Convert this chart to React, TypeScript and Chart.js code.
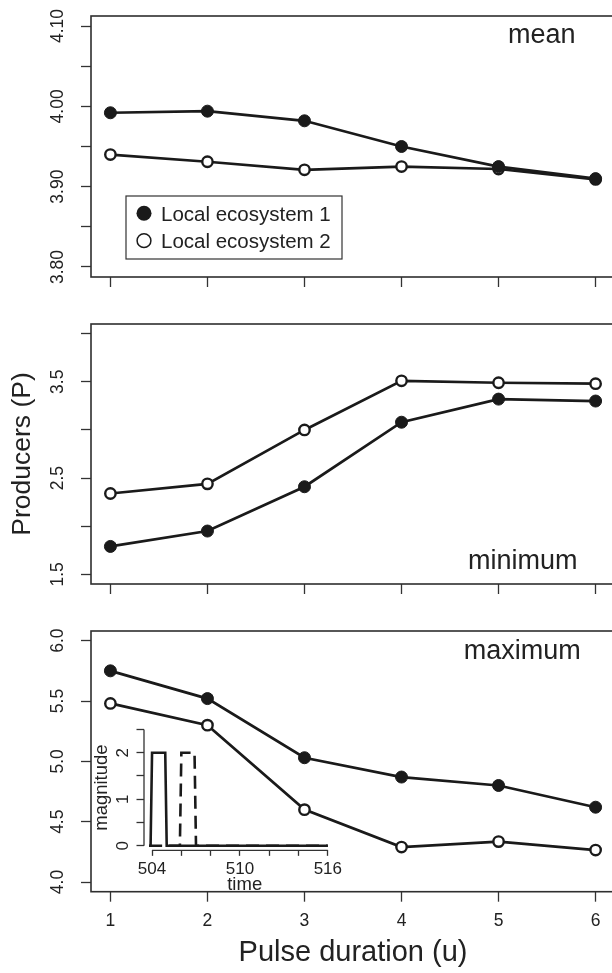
import React, { useEffect, useRef } from 'react';
import { Chart, registerables } from 'chart.js';

Chart.register(...registerables);

const FONT = '"Liberation Sans", Arial, Helvetica, sans-serif';
const INK = '#1a1a1a';
const TEXT = '#222222';
const FRAME = '#2e2e2e';

// ---------------- data ----------------
const durations = [1, 2, 3, 4, 5, 6];
const seriesNames = ['Local ecosystem 1', 'Local ecosystem 2'];

const meanEco1 = [3.992, 3.994, 3.982, 3.950, 3.925, 3.910];
const meanEco2 = [3.940, 3.931, 3.921, 3.925, 3.922, 3.909];

const minEco1 = [1.79, 1.95, 2.41, 3.08, 3.32, 3.30];
const minEco2 = [2.34, 2.44, 3.00, 3.51, 3.49, 3.48];

const maxEco1 = [5.75, 5.52, 5.03, 4.87, 4.80, 4.62];
const maxEco2 = [5.48, 5.30, 4.60, 4.29, 4.335, 4.265];

const panelLabels = ['mean', 'minimum', 'maximum'];
const xTitle = 'Pulse duration (u)';
const yTitle = 'Producers (P)';

const durationTicks = [1, 2, 3, 4, 5, 6];
const durationTickLabels = ['1', '2', '3', '4', '5', '6'];

const meanTicks = [3.8, 3.85, 3.9, 3.95, 4.0, 4.05, 4.1];
const meanTickLabels = ['3.80', '', '3.90', '', '4.00', '', '4.10'];
const minTicks = [1.5, 2.0, 2.5, 3.0, 3.5, 4.0];
const minTickLabels = ['1.5', '', '2.5', '', '3.5', ''];
const maxTicks = [4.0, 4.5, 5.0, 5.5, 6.0];
const maxTickLabels = ['4.0', '4.5', '5.0', '5.5', '6.0'];

// inset: pulse shapes
const pulseTime1 = [503.8, 503.9, 504.0, 504.9, 505.0, 516.0];
const pulseMag1 = [0, 0, 2, 2, 0, 0];
const pulseTime2 = [503.8, 505.9, 506.0, 506.9, 507.0, 516.0];
const pulseMag2 = [0, 0, 2, 2, 0, 0];
const insetXTitle = 'time';
const insetYTitle = 'magnitude';
const insetTimeTicks = [504, 506, 508, 510, 512, 514, 516];
const insetTimeTickLabels = ['504', '', '', '510', '', '', '516'];
const insetMagTicks = [0, 0.5, 1, 1.5, 2, 2.5];
const insetMagTickLabels = ['0', '', '1', '', '2', ''];

// ---------------- plugins ----------------
const panelDecor = {
  id: 'panelDecor',
  beforeDatasetsDraw(chart: any) {
    const { ctx, chartArea: a } = chart;
    ctx.save();
    ctx.strokeStyle = FRAME;
    ctx.lineWidth = 1.6;
    ctx.strokeRect(a.left, a.top, a.right - a.left, a.bottom - a.top);
    ctx.restore();
  },
  afterDraw(chart: any, _args: any, opts: any) {
    const { ctx } = chart;
    ctx.save();
    ctx.fillStyle = TEXT;
    ctx.textBaseline = 'alphabetic';
    ctx.textAlign = 'left';
    ctx.font = `27px ${FONT}`;
    ctx.fillText(opts.label, opts.labelX, opts.labelY);
    if (opts.legend) {
      const L = opts.legend;
      ctx.strokeStyle = '#333';
      ctx.lineWidth = 1.2;
      ctx.strokeRect(L.x, L.y, L.w, L.h);
      const ds = chart.data.datasets;
      ctx.font = `20.5px ${FONT}`;
      for (let i = 0; i < 2; i++) {
        const cy = L.rowY[i];
        ctx.beginPath();
        if (i === 0) {
          ctx.arc(L.markX, cy, 7.5, 0, Math.PI * 2);
          ctx.fillStyle = INK;
          ctx.fill();
        } else {
          ctx.arc(L.markX, cy, 6.9, 0, Math.PI * 2);
          ctx.fillStyle = '#fff';
          ctx.fill();
          ctx.strokeStyle = INK;
          ctx.lineWidth = 1.5;
          ctx.stroke();
        }
        ctx.fillStyle = TEXT;
        ctx.fillText(ds[i].label, L.textX, L.baseY[i]);
      }
    }
    ctx.restore();
  },
};

const insetAxes = {
  id: 'insetAxes',
  afterDraw(chart: any) {
    const { ctx, chartArea: a, scales } = chart;
    const xs = scales.x;
    const ys = scales.y;
    ctx.save();
    ctx.strokeStyle = '#333';
    ctx.lineWidth = 1.3;
    ctx.beginPath();
    ctx.moveTo(xs.getPixelForValue(insetTimeTicks[0]), a.bottom);
    ctx.lineTo(xs.getPixelForValue(insetTimeTicks[insetTimeTicks.length - 1]), a.bottom);
    ctx.moveTo(a.left, ys.getPixelForValue(insetMagTicks[0]));
    ctx.lineTo(a.left, ys.getPixelForValue(insetMagTicks[insetMagTicks.length - 1]));
    ctx.stroke();
    ctx.restore();
  },
};

// ---------------- config helpers ----------------
function makeXScale(opts: any) {
  return {
    type: 'linear',
    position: 'bottom',
    min: opts.min,
    max: opts.max,
    bounds: 'data',
    afterBuildTicks: (s: any) => {
      s.ticks = opts.ticks.map((v: number) => ({ value: v }));
    },
    afterFit: (s: any) => {
      s.height = opts.height;
      s.paddingLeft = 0;
      s.paddingRight = 0;
      s.paddingTop = 0;
      s.paddingBottom = 0;
    },
    ticks: {
      display: opts.showLabels,
      autoSkip: false,
      maxRotation: 0,
      minRotation: 0,
      padding: opts.pad,
      color: TEXT,
      font: { size: opts.fontSize, family: FONT },
      callback: (_v: any, i: number) => opts.labels[i] ?? '',
    },
    grid: {
      display: true,
      drawOnChartArea: false,
      drawTicks: true,
      tickLength: opts.tickLength,
      tickWidth: 1.3,
      tickColor: '#333',
    },
    border: { display: false },
    title: opts.title
      ? {
          display: true,
          text: opts.title,
          color: TEXT,
          font: { size: opts.titleSize, family: FONT },
          padding: { top: 0, bottom: opts.titlePad },
        }
      : { display: false },
  };
}

function makeYScale(opts: any) {
  return {
    type: 'linear',
    position: 'left',
    min: opts.min,
    max: opts.max,
    bounds: 'data',
    afterBuildTicks: (s: any) => {
      s.ticks = opts.ticks.map((v: number) => ({ value: v }));
    },
    afterFit: (s: any) => {
      s.width = opts.width;
      s.paddingLeft = 0;
      s.paddingRight = 0;
      s.paddingTop = 0;
      s.paddingBottom = 0;
    },
    ticks: {
      autoSkip: false,
      minRotation: 90,
      maxRotation: 90,
      crossAlign: 'center',
      padding: opts.pad,
      color: TEXT,
      font: { size: opts.fontSize, family: FONT },
      callback: (_v: any, i: number) => opts.labels[i] ?? '',
    },
    grid: {
      display: true,
      drawOnChartArea: false,
      drawTicks: true,
      tickLength: opts.tickLength,
      tickWidth: 1.3,
      tickColor: '#333',
    },
    border: { display: false },
    title: opts.title
      ? {
          display: true,
          text: opts.title,
          color: TEXT,
          font: { size: opts.titleSize, family: FONT },
          padding: { top: opts.titlePad, bottom: 0 },
        }
      : { display: false },
  };
}

function panelConfig(p: any) {
  const pts = (arr: number[]) => arr.map((v, i) => ({ x: durations[i], y: v }));
  return {
    type: 'line',
    data: {
      datasets: [
        {
          label: seriesNames[0],
          data: pts(p.eco1),
          borderColor: INK,
          borderWidth: 2.7,
          tension: 0,
          pointRadius: 6,
          pointBorderWidth: 1,
          pointBackgroundColor: INK,
          pointBorderColor: INK,
        },
        {
          label: seriesNames[1],
          data: pts(p.eco2),
          borderColor: INK,
          borderWidth: 2.7,
          tension: 0,
          pointRadius: 5.2,
          pointBorderWidth: 2.4,
          pointBackgroundColor: '#ffffff',
          pointBorderColor: INK,
        },
      ],
    },
    options: {
      animation: false,
      responsive: false,
      devicePixelRatio: 1,
      events: [],
      layout: { autoPadding: false, padding: { top: p.areaTop, left: 0, right: 0, bottom: 0 } },
      plugins: {
        legend: { display: false },
        tooltip: { enabled: false },
        panelDecor: {
          label: p.label,
          labelX: p.labelX,
          labelY: p.labelY,
          legend: p.legend,
        },
      },
      scales: {
        x: makeXScale({
          min: 0.8,
          max: 6.2,
          ticks: durationTicks,
          labels: durationTickLabels,
          showLabels: p.showXLabels,
          height: p.height - p.areaBottom,
          pad: 8.8,
          fontSize: 17.5,
          tickLength: 10,
          title: p.xTitle,
          titleSize: 29,
          titlePad: 3,
        }),
        y: makeYScale({
          min: p.yMin,
          max: p.yMax,
          ticks: p.yTicks,
          labels: p.yLabels,
          width: 91,
          pad: p.yPad,
          fontSize: 17.5,
          tickLength: 10,
          title: p.yTitle,
          titleSize: 26.5,
          titlePad: 6.6,
        }),
      },
    },
    plugins: [panelDecor],
  };
}

function insetConfig() {
  const pts = (t: number[], m: number[]) => t.map((v, i) => ({ x: v, y: m[i] }));
  return {
    type: 'line',
    data: {
      datasets: [
        {
          label: 'pulse 1',
          data: pts(pulseTime1, pulseMag1),
          borderColor: INK,
          borderWidth: 2.6,
          tension: 0,
          pointRadius: 0,
        },
        {
          label: 'pulse 2',
          data: pts(pulseTime2, pulseMag2),
          borderColor: INK,
          borderWidth: 2.6,
          borderDash: [13, 7],
          tension: 0,
          pointRadius: 0,
        },
      ],
    },
    options: {
      animation: false,
      responsive: false,
      devicePixelRatio: 1,
      events: [],
      layout: { autoPadding: false, padding: { top: 9.8, left: 0, right: 9.6, bottom: 0 } },
      plugins: { legend: { display: false }, tooltip: { enabled: false } },
      scales: {
        x: makeXScale({
          min: 503.45,
          max: 517.2,
          ticks: insetTimeTicks,
          labels: insetTimeTickLabels,
          showLabels: true,
          height: 185 - 135.35,
          pad: 3,
          fontSize: 17,
          tickLength: 5.5,
          title: insetXTitle,
          titleSize: 18.5,
          titlePad: 4.4,
        }),
        y: makeYScale({
          min: -0.1,
          max: 2.6,
          ticks: insetMagTicks,
          labels: insetMagTickLabels,
          width: 54,
          pad: 8.8,
          fontSize: 17,
          tickLength: 7.5,
          title: insetYTitle,
          titleSize: 18.5,
          titlePad: 0.9,
        }),
      },
    },
    plugins: [insetAxes],
  };
}

export default function App() {
  const c1 = useRef<HTMLCanvasElement>(null);
  const c2 = useRef<HTMLCanvasElement>(null);
  const c3 = useRef<HTMLCanvasElement>(null);
  const c4 = useRef<HTMLCanvasElement>(null);

  useEffect(() => {
    Chart.defaults.font.family = FONT;
    const charts: Chart[] = [];
    charts.push(
      new Chart(
        c1.current as HTMLCanvasElement,
        panelConfig({
          eco1: meanEco1,
          eco2: meanEco2,
          height: 300,
          areaTop: 16,
          areaBottom: 277,
          yMin: 3.7875,
          yMax: 4.1125,
          yTicks: meanTicks,
          yLabels: meanTickLabels,
          yPad: 6,
          showXLabels: false,
          label: panelLabels[0],
          labelX: 508,
          labelY: 43.3,
          legend: {
            x: 126,
            y: 196,
            w: 216,
            h: 63,
            markX: 144,
            rowY: [213.3, 240.7],
            textX: 161,
            baseY: [220.7, 248.1],
          },
        }) as any
      )
    );
    charts.push(
      new Chart(
        c2.current as HTMLCanvasElement,
        panelConfig({
          eco1: minEco1,
          eco2: minEco2,
          height: 320,
          areaTop: 24,
          areaBottom: 284,
          yMin: 1.4,
          yMax: 4.1,
          yTicks: minTicks,
          yLabels: minTickLabels,
          yPad: 10.8,
          showXLabels: false,
          yTitle: yTitle,
          label: panelLabels[1],
          labelX: 468,
          labelY: 269.3,
        }) as any
      )
    );
    charts.push(
      new Chart(
        c3.current as HTMLCanvasElement,
        panelConfig({
          eco1: maxEco1,
          eco2: maxEco2,
          height: 353,
          areaTop: 11,
          areaBottom: 271.7,
          yMin: 3.92,
          yMax: 6.08,
          yTicks: maxTicks,
          yLabels: maxTickLabels,
          yPad: 10.8,
          showXLabels: true,
          xTitle: xTitle,
          label: panelLabels[2],
          labelX: 463.7,
          labelY: 39.3,
        }) as any
      )
    );
    charts.push(new Chart(c4.current as HTMLCanvasElement, insetConfig() as any));
    return () => {
      charts.forEach((c) => c.destroy());
    };
  }, []);

  return (
    <div
      style={{
        position: 'absolute',
        left: 0,
        top: 0,
        width: 612,
        height: 973,
        overflow: 'hidden',
        background: '#ffffff',
      }}
    >
      <canvas ref={c1} width={615} height={300} style={{ position: 'absolute', left: 0, top: 0 }} />
      <canvas ref={c2} width={615} height={320} style={{ position: 'absolute', left: 0, top: 300 }} />
      <canvas ref={c3} width={615} height={353} style={{ position: 'absolute', left: 0, top: 620 }} />
      <canvas ref={c4} width={265} height={185} style={{ position: 'absolute', left: 90, top: 715 }} />
    </div>
  );
}
